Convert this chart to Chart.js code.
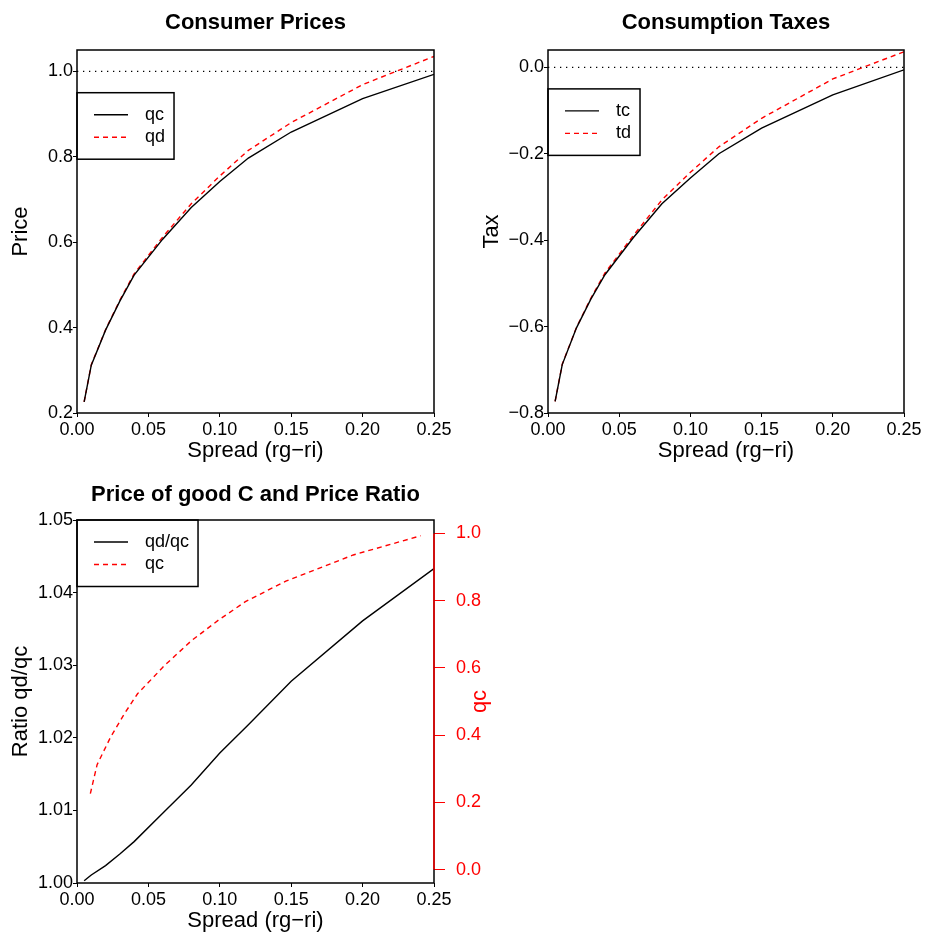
<!DOCTYPE html>
<html lang="en">
<head>
<meta charset="UTF-8" />
<title>Consumer Prices and Consumption Taxes</title>
<script src="https://cdn.jsdelivr.net/npm/chart.js"></script>
<style>
  html, body { margin: 0; padding: 0; background: #fff; width: 926px; height: 936px; overflow: hidden; }
  .panel { position: absolute; }
  #p1 { left: 0; top: 0; width: 463px; height: 468px; }
  #p2 { left: 463px; top: 0; width: 463px; height: 468px; }
  #p3 { left: 0; top: 470px; width: 520px; height: 466px; }
</style>
</head>
<body>
<div class="panel" id="p1"><canvas id="pricesChart"></canvas></div>
<div class="panel" id="p2"><canvas id="taxesChart"></canvas></div>
<div class="panel" id="p3"><canvas id="ratioChart"></canvas></div>
<script>
// data
const spread = [0.005, 0.01, 0.02, 0.03, 0.04, 0.06, 0.08, 0.10, 0.12, 0.15, 0.20, 0.25];
const qc = [0.226, 0.312, 0.394, 0.462, 0.523, 0.607, 0.681, 0.742, 0.797, 0.858, 0.936, 0.993];
const qd = [0.226, 0.313, 0.395, 0.464, 0.526, 0.612, 0.690, 0.755, 0.815, 0.880, 0.969, 1.035];
const tc = [-0.773, -0.688, -0.603, -0.537, -0.480, -0.394, -0.316, -0.256, -0.200, -0.141, -0.064, -0.006];
const td = [-0.773, -0.687, -0.602, -0.535, -0.476, -0.389, -0.307, -0.243, -0.184, -0.118, -0.027, 0.036];
const ratio = [1.0003, 1.0011, 1.0024, 1.0040, 1.0057, 1.0096, 1.0135, 1.0179, 1.0218, 1.0278, 1.0361, 1.0433];

const spreadTicks = [0, 0.05, 0.10, 0.15, 0.20, 0.25];
const priceTicks = [0.2, 0.4, 0.6, 0.8, 1.0];
const taxTicks = [-0.8, -0.6, -0.4, -0.2, 0.0];
const ratioTicks = [1.00, 1.01, 1.02, 1.03, 1.04, 1.05];
const qcTicks = [0.0, 0.2, 0.4, 0.6, 0.8, 1.0];
const priceRef = [1.0, 1.0];
const taxRef = [0.0, 0.0];
const refSpread = [0, 0.25];

const FONT = "'Liberation Sans', Arial, sans-serif";
Chart.defaults.font.family = FONT;
Chart.defaults.color = "#000";

const pts = (xs, ys) => xs.map((x, i) => ({ x: x, y: ys[i] }));
const fmt = (d) => (v) => (v < 0 ? "\u2212" : "") + Math.abs(v).toFixed(d);

function xScale(height, titlePad) {
    return {
        type: "linear", min: 0, max: 0.25,
        afterFit: (s) => { s.height = height; },
        afterBuildTicks: (s) => { s.ticks = spreadTicks.map((v) => ({ value: v })); },
        ticks: { callback: fmt(2), font: { size: 18 }, padding: 2, maxRotation: 0, autoSkip: false },
        grid: { drawOnChartArea: false, tickLength: 4, color: "#000" },
        border: { display: false },
        title: { display: true, text: "Spread (rg\u2212ri)", font: { size: 22 }, padding: { top: 0, bottom: titlePad } },
    };
}

function yScale(min, max, tickList, digits, width, label, titlePad) {
    return {
        type: "linear", position: "left", min: min, max: max,
        afterFit: (s) => { s.width = width; },
        afterBuildTicks: (s) => { s.ticks = tickList.map((v) => ({ value: v })); },
        ticks: { callback: fmt(digits), font: { size: 18 }, padding: 0, autoSkip: false },
        grid: { drawOnChartArea: false, tickLength: 4, color: "#000" },
        border: { display: false },
        title: { display: true, text: label, font: { size: 22 }, padding: { top: titlePad, bottom: 0 } },
    };
}

function line(label, data, color, dash) {
    return {
        label: label, data: data, borderColor: color, borderWidth: 1.4,
        borderDash: dash || [], pointRadius: 0, tension: 0, fill: false,
    };
}

function refLine(data) {
    const d = line("", data, "#000", [1.3, 4.7]);
    d.borderWidth = 1.2;
    d.noLegend = true;
    return d;
}

// box around the plot, R-style legend and the red right axis
const rPanel = {
    id: "rPanel",
    afterDraw(chart, args, opts) {
        const ctx = chart.ctx;
        const a = chart.chartArea;
        ctx.save();
        ctx.strokeStyle = "#000";
        ctx.lineWidth = 1.5;
        ctx.setLineDash([]);
        ctx.strokeRect(a.left, a.top, a.right - a.left, a.bottom - a.top);

        const items = chart.data.datasets.filter((d) => !d.noLegend);
        ctx.font = "18px " + FONT;
        const lx = chart.scales.x.getPixelForValue(opts.legendAt[0]);
        const ly = chart.scales.y.getPixelForValue(opts.legendAt[1]);
        const tw = Math.max(...items.map((d) => ctx.measureText(d.label).width));
        ctx.strokeRect(lx, ly, 68 + tw + 9, 66.5);
        items.forEach((d, i) => {
            const y = ly + 22 + i * 22.5;
            ctx.strokeStyle = d.borderColor;
            ctx.lineWidth = d.borderWidth;
            ctx.setLineDash(d.borderDash);
            ctx.beginPath();
            ctx.moveTo(lx + 17, y);
            ctx.lineTo(lx + 51, y);
            ctx.stroke();
            ctx.setLineDash([]);
            ctx.fillStyle = "#000";
            ctx.textAlign = "left";
            ctx.textBaseline = "middle";
            ctx.fillText(d.label, lx + 68, y);
        });

        if (opts.rightAxis) {
            const y2 = chart.scales.y2;
            ctx.strokeStyle = "#ff0000";
            ctx.lineWidth = 1.5;
            ctx.beginPath();
            ctx.moveTo(a.right, y2.getPixelForValue(qcTicks[0]));
            ctx.lineTo(a.right, y2.getPixelForValue(qcTicks[qcTicks.length - 1]));
            ctx.stroke();
            ctx.translate(a.right + 46, (a.top + a.bottom) / 2);
            ctx.rotate(-Math.PI / 2);
            ctx.font = "22px " + FONT;
            ctx.fillStyle = "#ff0000";
            ctx.textAlign = "center";
            ctx.textBaseline = "middle";
            ctx.fillText(opts.rightAxis, 0, 0);
        }
        ctx.restore();
    },
};

function titleOpts(text, top, bottom) {
    return {
        display: true, text: text, fullSize: false, color: "#000",
        font: { size: 22, weight: "bold" }, padding: { top: top, bottom: bottom },
    };
}

const base = {
    responsive: true, maintainAspectRatio: false, animation: false, devicePixelRatio: 1,
};

new Chart(document.getElementById("pricesChart"), {
    type: "line",
    data: {
        datasets: [
            line("qc", pts(spread, qc), "#000"),
            line("qd", pts(spread, qd), "#ff0000", [5, 4]),
            refLine(pts(refSpread, priceRef)),
        ],
    },
    options: Object.assign({}, base, {
        layout: { padding: { left: 0, right: 29, top: 0, bottom: 0 } },
        scales: {
            x: xScale(55, 4),
            y: yScale(0.2, 1.05, priceTicks, 1, 77, "Price", 7.5),
        },
        plugins: {
            legend: { display: false }, tooltip: { enabled: false },
            title: titleOpts("Consumer Prices", 10, 13.6),
            rPanel: { legendAt: [0, 0.95] },
        },
    }),
    plugins: [rPanel],
});

new Chart(document.getElementById("taxesChart"), {
    type: "line",
    data: {
        datasets: [
            line("tc", pts(spread, tc), "#000"),
            line("td", pts(spread, td), "#ff0000", [5, 4]),
            refLine(pts(refSpread, taxRef)),
        ],
    },
    options: Object.assign({}, base, {
        layout: { padding: { left: 0, right: 22, top: 0, bottom: 0 } },
        scales: {
            x: xScale(55, 4),
            y: yScale(-0.8, 0.04, taxTicks, 1, 85, "Tax", 15.5),
        },
        plugins: {
            legend: { display: false }, tooltip: { enabled: false },
            title: titleOpts("Consumption Taxes", 10, 13.6),
            rPanel: { legendAt: [0, -0.05] },
        },
    }),
    plugins: [rPanel],
});

const qcSeries = line("qc", pts(spread, qc), "#ff0000", [5, 4]);
qcSeries.xAxisID = "x2";
qcSeries.yAxisID = "y2";

new Chart(document.getElementById("ratioChart"), {
    type: "line",
    data: {
        datasets: [
            line("qd/qc", pts(spread, ratio), "#000"),
            qcSeries,
        ],
    },
    options: Object.assign({}, base, {
        layout: { padding: { left: 0, right: 0, top: 0, bottom: 0 } },
        scales: {
            x: xScale(53, 2),
            x2: { type: "linear", display: false, min: -0.0049, max: 0.2599 },
            y: yScale(1.0, 1.05, ratioTicks, 2, 77, "Ratio qd/qc", 7.5),
            y2: {
                type: "linear", position: "right", min: -0.04, max: 1.04,
                afterFit: (s) => { s.width = 86; },
                afterBuildTicks: (s) => { s.ticks = qcTicks.map((v) => ({ value: v })); },
                ticks: { callback: fmt(1), font: { size: 18 }, color: "#ff0000", padding: 11, autoSkip: false },
                grid: { drawOnChartArea: false, tickLength: 11, color: "#ff0000" },
                border: { display: false },
            },
        },
        plugins: {
            legend: { display: false }, tooltip: { enabled: false },
            title: titleOpts("Price of good C and Price Ratio", 11.8, 11.8),
            rPanel: { legendAt: [0, 1.05], rightAxis: "qc" },
        },
    }),
    plugins: [rPanel],
});
</script>
</body>
</html>
